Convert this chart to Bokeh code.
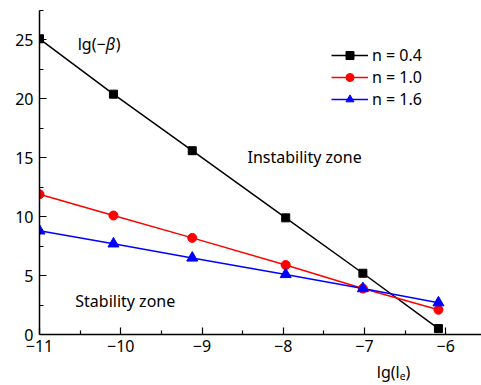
from bokeh.plotting import figure
from bokeh.models import (Range1d, Label, Legend, LegendItem, CustomJSTickFormatter,
                          FixedTicker, ColumnDataSource)
from bokeh.embed import file_html
from bokeh.resources import INLINE

# ---- data ----
lg_le = [-11.0, -10.09, -9.12, -7.97, -7.02, -6.09]
beta_n04 = [25.1, 20.4, 15.6, 9.9, 5.2, 0.5]
beta_n10 = [11.9, 10.1, 8.2, 5.9, 3.9, 2.1]
beta_n16 = [8.8, 7.7, 6.5, 5.1, 3.9, 2.7]
series_labels = ["n = 0.4", "n = 1.0", "n = 1.6"]
x_ticks = [-11, -10, -9, -8, -7, -6]
y_ticks = [0, 5, 10, 15, 20, 25]

FONT = "Noto Sans"
FS = "16px"

p = figure(width=481, height=385, output_backend="svg", toolbar_location=None,
           x_range=Range1d(-11, -5.56), y_range=Range1d(0, 27.5),
           min_border_left=39, min_border_right=0, min_border_top=10, min_border_bottom=51)
p.outline_line_color = None
p.grid.visible = False
p.background_fill_color = "white"

minus_fmt = CustomJSTickFormatter(code="return tick.toString().replace('-', '\u2212');")

for ax in (p.xaxis[0], p.yaxis[0]):
    ax.axis_line_color = "black"
    ax.axis_line_width = 1.5
    ax.major_tick_line_color = "black"
    ax.minor_tick_line_color = "black"
    ax.major_tick_line_width = 1.2
    ax.minor_tick_line_width = 1.2
    ax.major_tick_in = 7
    ax.major_tick_out = 0
    ax.minor_tick_in = 4
    ax.minor_tick_out = 0
    ax.major_label_text_font = FONT
    ax.major_label_text_font_size = FS
    ax.major_label_text_color = "black"
    ax.formatter = minus_fmt

p.xaxis[0].ticker = FixedTicker(ticks=x_ticks,
                                minor_ticks=[-10.5, -9.5, -8.5, -7.5, -6.5, -5.5])
p.yaxis[0].ticker = FixedTicker(ticks=y_ticks,
                                minor_ticks=[2.5, 7.5, 12.5, 17.5, 22.5, 27.5])
p.xaxis[0].major_label_standoff = 5
p.yaxis[0].major_label_standoff = 6

# x-axis title, pushed to the right side with leading no-break spaces
xax = p.xaxis[0]
xax.axis_label = "\u00a0" * 64 + "lg(l\u2091)"
xax.axis_label_text_font = FONT
xax.axis_label_text_font_size = FS
xax.axis_label_text_font_style = "normal"
xax.axis_label_text_color = "black"
xax.axis_label_standoff = 6

src = ColumnDataSource(dict(x=lg_le, a=beta_n04, b=beta_n10, c=beta_n16))

l1 = p.line("x", "a", source=src, line_color="black", line_width=1.5)
m1 = p.scatter("x", "a", source=src, marker="square", size=8, color="black")
l2 = p.line("x", "b", source=src, line_color="red", line_width=1.5)
m2 = p.scatter("x", "b", source=src, marker="circle", size=9, color="red")
l3 = p.line("x", "c", source=src, line_color="blue", line_width=1.5)
m3 = p.scatter("x", "c", source=src, marker="triangle", size=11, color="blue")

legend = Legend(items=[LegendItem(label=series_labels[0], renderers=[l1, m1]),
                       LegendItem(label=series_labels[1], renderers=[l2, m2]),
                       LegendItem(label=series_labels[2], renderers=[l3, m3])],
                location=(292, 224))
legend.background_fill_alpha = 0
legend.border_line_color = None
legend.padding = 0
legend.margin = 0
legend.spacing = 0
legend.glyph_width = 37
legend.glyph_height = 20
legend.label_height = 20
legend.label_standoff = 4
legend.label_text_font = FONT
legend.label_text_font_size = FS
legend.label_text_color = "black"
p.add_layout(legend)

def lab(x, y, text, size=FS, style="normal", xo=0, yo=0):
    p.add_layout(Label(x=x, y=y, text=text, text_font=FONT, text_font_size=size,
                       text_font_style=style, text_color="black",
                       text_baseline="middle", text_align="left",
                       x_offset=xo, y_offset=yo))

# y-axis label (inside plot)
lab(-10.53, 24.66, "lg(\u2212")
lab(-10.53, 24.66, "\u03b2", style="italic", xo=28)
lab(-10.53, 24.66, ")", xo=38)

# zone labels
lab(-8.44, 15.1, "Instability zone")
lab(-10.56, 2.87, "Stability zone")

open("out.html", "w").write(file_html(p, INLINE))
